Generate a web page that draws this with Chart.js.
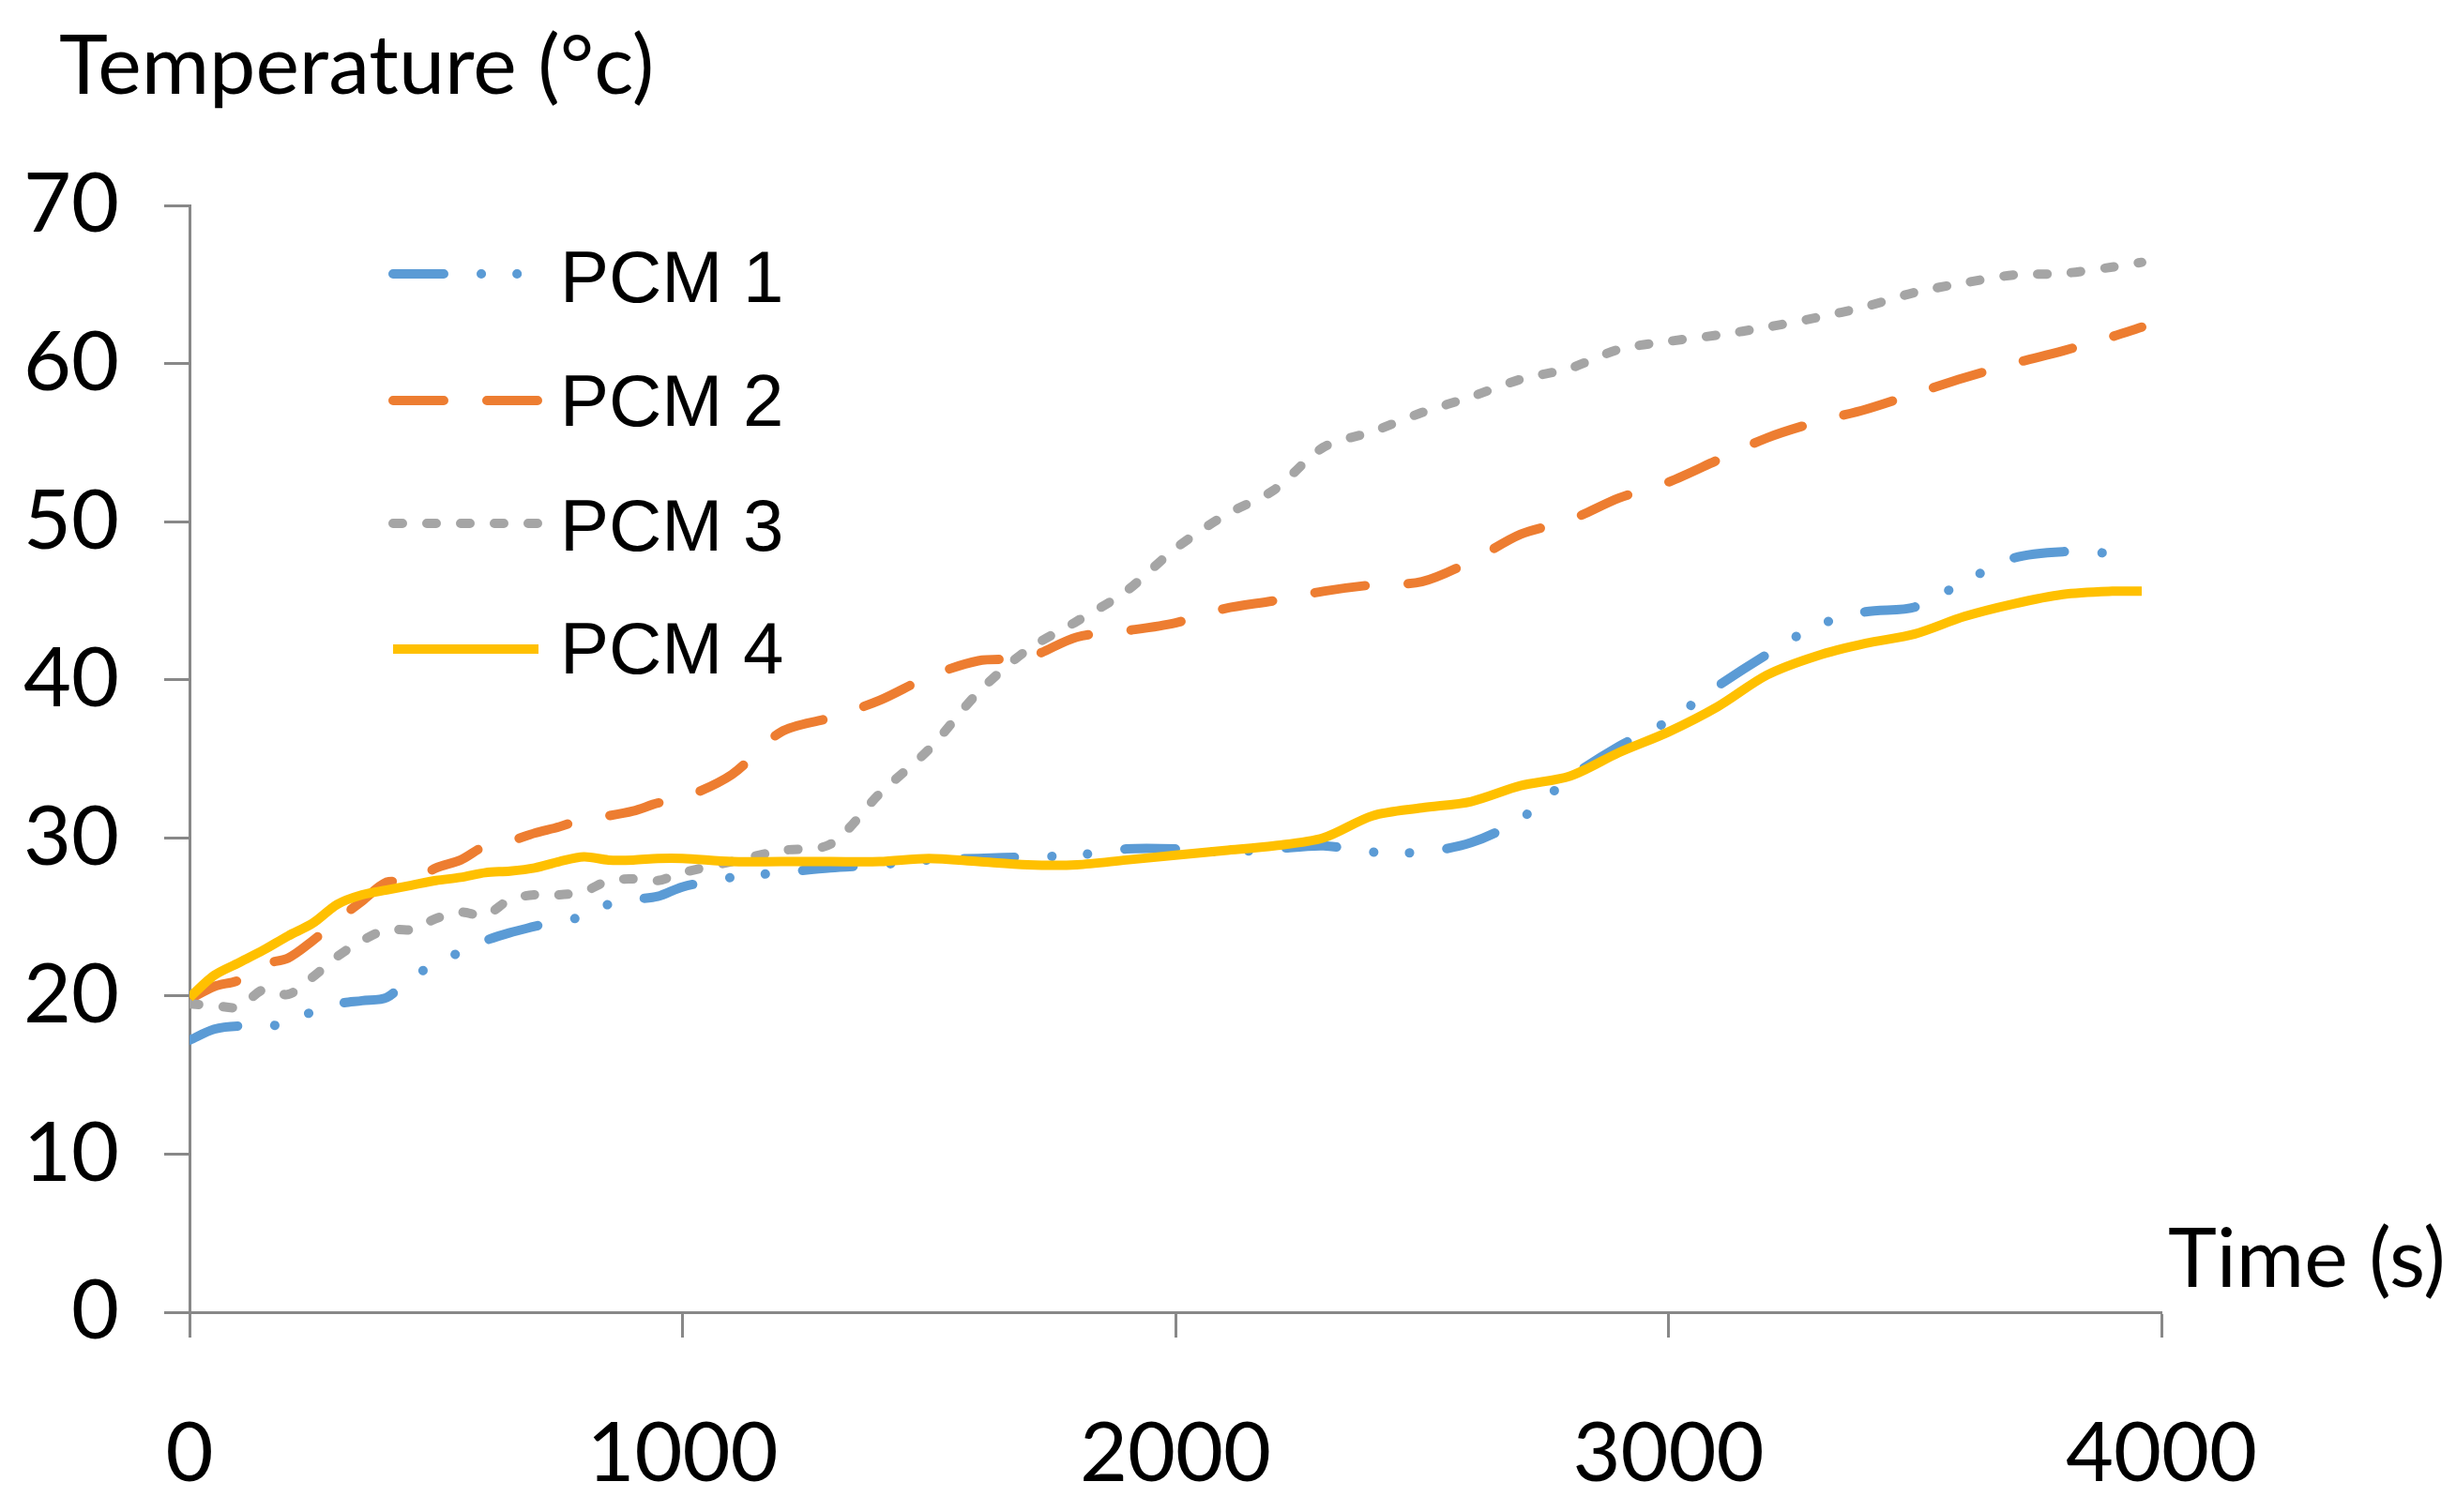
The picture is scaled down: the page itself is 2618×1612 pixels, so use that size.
<!DOCTYPE html>
<html>
<head>
<meta charset="utf-8">
<script src="https://cdn.jsdelivr.net/npm/chart.js@4.4.1/dist/chart.umd.min.js"></script>
<style>
  html, body { margin: 0; padding: 0; background: #fff; }
  #wrap { width: 2618px; height: 1612px; position: relative; }
</style>
</head>
<body>
<div id="wrap"><canvas id="myChart"></canvas></div>
<script>
// time in seconds
const times = [0, 50, 100, 150, 200, 250, 300, 350, 400, 450, 500, 550, 600, 650, 700, 750, 800, 850, 900, 950, 1000,
    1100, 1200, 1300, 1400, 1500, 1600, 1700, 1800, 1900, 2000, 2100, 2200, 2300, 2400, 2500, 2600, 2700, 2800, 2900,
    3000, 3100, 3200, 3300, 3400, 3500, 3600, 3700, 3800, 3900, 3960];

const pcm1 = [17.2, 17.9, 18.1, 18.0, 18.4, 19.0, 19.5, 19.7, 19.9, 21.2, 22.0, 22.8, 23.5, 24.0, 24.4, 24.8, 25.0, 25.8, 26.1, 26.3, 26.9,
    27.5, 27.8, 28.1, 28.3, 28.6, 28.7, 28.8, 28.9, 29.3, 29.3, 29.1, 29.3, 29.5, 29.1, 29.1, 29.7, 31.2, 33.8, 35.8,
    37.4, 39.6, 41.6, 43.4, 44.3, 44.6, 46.2, 47.7, 48.1, 48.0, null];
const pcm2 = [19.8, 20.6, 21.0, 22.0, 22.4, 23.5, 24.8, 26.0, 27.2, 27.2, 28.1, 28.6, 29.5, 29.8, 30.3, 30.7, 31.2, 31.4, 31.7, 32.2, 32.5,
    34.0, 36.7, 37.6, 38.7, 40.2, 41.2, 41.4, 42.7, 43.1, 43.6, 44.5, 45.0, 45.6, 46.0, 46.2, 47.5, 49.2, 50.1, 51.5,
    52.5, 53.9, 55.3, 56.3, 57.1, 58.1, 59.1, 60.0, 60.8, 61.7, 62.3];
const pcm3 = [19.5, 19.4, 19.3, 20.4, 20.1, 21.2, 22.5, 23.5, 24.2, 24.2, 24.9, 25.3, 25.1, 26.1, 26.4, 26.4, 26.6, 27.3, 27.4, 27.3, 27.8,
    28.5, 29.2, 29.6, 32.8, 35.6, 39.2, 41.9, 43.7, 45.6, 48.3, 50.4, 52.0, 54.7, 55.7, 56.9, 57.9, 59.0, 59.7, 60.9,
    61.4, 61.8, 62.3, 62.9, 63.6, 64.5, 65.1, 65.6, 65.7, 66.1, 66.4];
const pcm4 = [19.9, 21.3, 22.1, 22.9, 23.8, 24.6, 25.8, 26.4, 26.7, 27.0, 27.3, 27.5, 27.8, 27.9, 28.1, 28.5, 28.8, 28.6, 28.6, 28.7, 28.7,
    28.5, 28.5, 28.5, 28.5, 28.7, 28.5, 28.3, 28.3, 28.6, 28.9, 29.2, 29.5, 30.0, 31.4, 31.9, 32.3, 33.3, 33.9, 35.4,
    36.7, 38.3, 40.3, 41.5, 42.3, 42.9, 44.0, 44.8, 45.4, 45.6, 45.6];

const seriesNames = ["PCM 1", "PCM 2", "PCM 3", "PCM 4"];
const xTicks = [0, 1000, 2000, 3000, 4000];
const yTicks = [0, 10, 20, 30, 40, 50, 60, 70];

const colors = ["#5B9BD5", "#ED7D31", "#A5A5A5", "#FFC000"];
const dashes = [[54, 40, 0.1, 38, 0.1, 40], [54, 46], [10, 26], []];
const lineW = 10;
const axisColor = "#888888";
const mainFont = "Lato, 'Open Sans', sans-serif";

function points(vals) {
    return times.map((t, i) => ({ x: t, y: vals[i] }));
}

const allSeries = [pcm1, pcm2, pcm3, pcm4];
const datasets = allSeries.map((vals, i) => ({
    label: seriesNames[i],
    data: points(vals),
    borderColor: colors[i],
    borderWidth: lineW,
    borderDash: dashes[i],
    borderCapStyle: i === 3 ? "butt" : "round",
    borderJoinStyle: "round",
    pointRadius: 0,
    tension: 0.3,
    fill: false,
    order: 4 - i,
}));

// titles + legend drawn by hand so they sit where the original has them
const decorations = {
    id: "decorations",
    afterDraw(chart) {
        const ctx = chart.ctx;
        ctx.save();
        ctx.fillStyle = "#000";
        ctx.textBaseline = "alphabetic";
        ctx.textAlign = "left";
        ctx.font = "88px " + mainFont;
        ctx.fillText("Temperature (°c)", 63, 100);
        ctx.fillText("Time (s)", 2311, 1372);

        const rowsLine = [292, 427, 558, 692];
        const rowsText = [322, 454, 587, 718];
        ctx.font = "78px 'Liberation Sans', Arial, sans-serif";
        seriesNames.forEach((name, i) => {
            ctx.beginPath();
            ctx.strokeStyle = colors[i];
            ctx.lineWidth = lineW;
            ctx.lineCap = i === 3 ? "butt" : "round";
            ctx.setLineDash(dashes[i]);
            ctx.moveTo(419, rowsLine[i]);
            ctx.lineTo(574, rowsLine[i]);
            ctx.stroke();
            ctx.setLineDash([]);
            ctx.fillText(name, 597, rowsText[i]);
        });
        ctx.restore();
    }
};

const chart = new Chart(document.getElementById("myChart"), {
    type: "line",
    data: { datasets },
    options: {
        responsive: true,
        maintainAspectRatio: false,
        devicePixelRatio: 1,
        animation: false,
        layout: { padding: { left: 0, top: 219, right: 314, bottom: 0 } },
        plugins: {
            legend: { display: false },
            tooltip: { enabled: false },
        },
        scales: {
            x: {
                type: "linear",
                min: 0,
                max: 4000,
                afterFit: (scale) => { scale.height = 213; },
                afterBuildTicks: (scale) => { scale.ticks = xTicks.map(v => ({ value: v })); },
                grid: { drawOnChartArea: false, drawTicks: true, tickLength: 27, tickColor: axisColor, tickWidth: 3 },
                border: { display: true, color: axisColor, width: 3 },
                ticks: { color: "#000", padding: 72, maxRotation: 0, font: { family: mainFont, size: 88 },
                    callback: (v) => String(v) },
            },
            y: {
                min: 0,
                max: 70,
                afterFit: (scale) => { scale.width = 202; },
                afterBuildTicks: (scale) => { scale.ticks = yTicks.map(v => ({ value: v })); },
                grid: { drawOnChartArea: false, drawTicks: true, tickLength: 27, tickColor: axisColor, tickWidth: 3 },
                border: { display: true, color: axisColor, width: 3 },
                ticks: { color: "#000", padding: 48, font: { family: mainFont, size: 88 },
                    callback: (v) => String(v) },
            },
        },
    },
    plugins: [decorations],
});
</script>
</body>
</html>
